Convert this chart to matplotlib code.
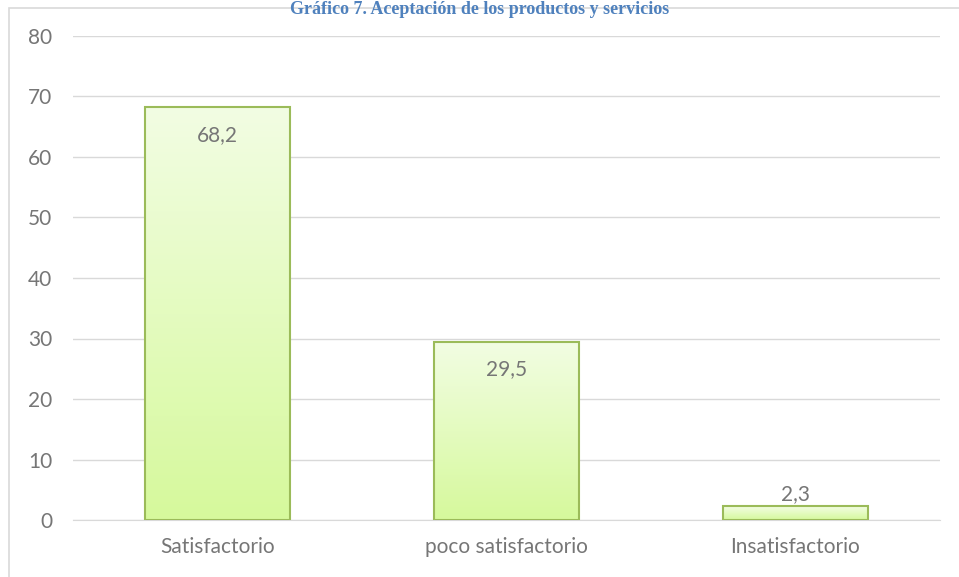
import matplotlib.pyplot as plt
import numpy as np
from matplotlib.patches import Rectangle
from matplotlib.colors import LinearSegmentedColormap

categories = ["Satisfactorio", "poco satisfactorio", "Insatisfactorio"]
values = [68.2, 29.5, 2.3]
value_labels = ["68,2", "29,5", "2,3"]
title = "Gráfico 7. Aceptación de los productos y servicios"

plt.rcParams["font.family"] = ["Lato", "DejaVu Sans"]

fig = plt.figure(figsize=(9.59, 5.77), dpi=100)
ax = fig.add_axes([73 / 959, 1 - 520 / 577, 867 / 959, 484 / 577])

# chart frame
fig.patches.append(Rectangle((8.5 / 959, -0.1), 1.2, 1 - 7.5 / 577 + 0.1,
                             transform=fig.transFigure, fill=False,
                             edgecolor="#d9d9d9", linewidth=1.2))

fig.text(480 / 959, 1 - 1 / 577, title, ha="center", va="top",
         fontsize=13, fontweight="bold", color="#4f81bd",
         family="Liberation Serif")

grad = LinearSegmentedColormap.from_list("g", ["#d6f99c", "#f2fde3"])
gimg = np.linspace(0, 1, 256).reshape(-1, 1)

x = np.arange(len(categories))
w = 0.5
bars = ax.bar(x, values, width=w, color="none", edgecolor="#9bbb59",
              linewidth=1.5, zorder=3)
for b in bars:
    x0, y0 = b.get_x(), b.get_y()
    im = ax.imshow(gimg, cmap=grad, aspect="auto", origin="lower",
                   extent=[x0, x0 + b.get_width(), y0, y0 + b.get_height()],
                   zorder=2)
    im.set_clip_path(b)

for i, v in enumerate(values):
    if v > 10:
        ax.text(x[i], v - 4.6, value_labels[i], ha="center", va="center",
                fontsize=15, color="#767676", zorder=4)
    else:
        ax.text(x[i], v + 2.0, value_labels[i], ha="center", va="center",
                fontsize=15, color="#767676", zorder=4)

ax.set_xlim(-0.5, 2.5)
ax.set_ylim(0, 80)
ax.set_yticks(range(0, 81, 10))
ax.set_xticks(x)
ax.set_xticklabels(categories)
ax.grid(axis="y", color="#d9d9d9", linewidth=1, zorder=0)
ax.set_axisbelow(True)
for s in ["top", "right", "left"]:
    ax.spines[s].set_visible(False)
ax.spines["bottom"].set_color("#d9d9d9")
ax.tick_params(axis="both", length=0, labelsize=15, colors="#767676")
ax.tick_params(axis="y", pad=15)
ax.tick_params(axis="x", pad=12)

fig.savefig("out.png", dpi=100)
